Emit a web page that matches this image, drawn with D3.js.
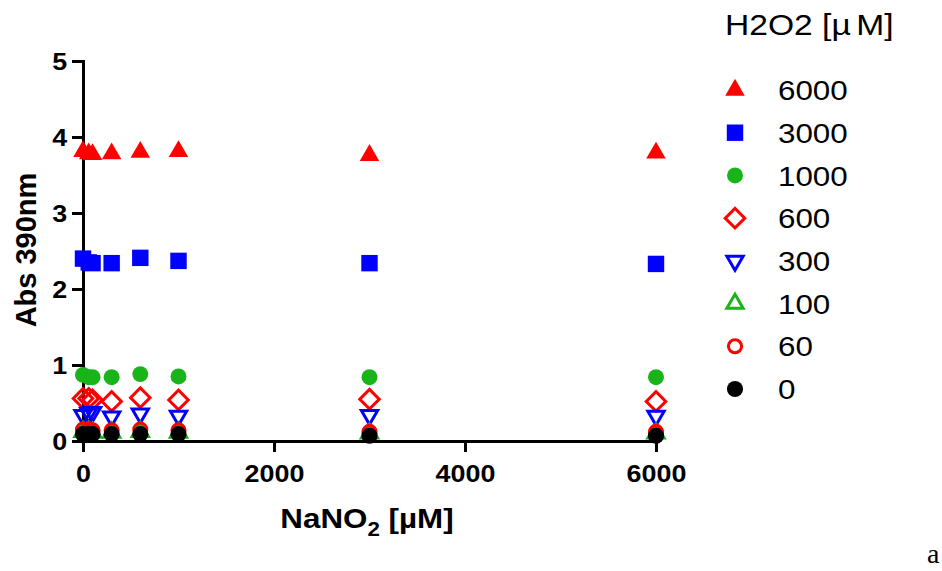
<!DOCTYPE html>
<html>
<head>
<meta charset="utf-8">
<script src="https://cdn.jsdelivr.net/npm/d3@7"></script>
<style>
  body { margin: 0; background: #fff; }
  svg { display: block; font-family: "Liberation Sans", Arial, sans-serif; }
</style>
</head>
<body>
<svg id="chart" width="942" height="571"></svg>
<script>
// NaNO2 concentrations (x) and H2O2 series (legend order)
const nitrite = [0, 60, 100, 300, 600, 1000, 3000, 6000];
const peroxide = ["6000", "3000", "1000", "600", "300", "100", "60", "0"];

const abs6000 = [3.81, 3.78, 3.77, 3.78, 3.80, 3.81, 3.76, 3.79];
const abs3000 = [2.40, 2.35, 2.34, 2.34, 2.41, 2.37, 2.34, 2.33];
const abs1000 = [0.87, 0.84, 0.84, 0.84, 0.88, 0.85, 0.84, 0.84];
const abs600 = [0.56, 0.56, 0.54, 0.52, 0.57, 0.54, 0.55, 0.52];
const abs300 = [0.34, 0.37, 0.38, 0.32, 0.36, 0.33, 0.34, 0.33];
const abs100 = [0.12, 0.12, 0.11, 0.11, 0.12, 0.11, 0.10, 0.10];
const abs60 = [0.15, 0.15, 0.14, 0.14, 0.15, 0.14, 0.12, 0.12];
const abs0 = [0.09, 0.09, 0.09, 0.09, 0.09, 0.09, 0.07, 0.07];

const xTicks = [0, 2000, 4000, 6000];
const yTicks = [0, 1, 2, 3, 4, 5];

const values = [abs6000, abs3000, abs1000, abs600, abs300, abs100, abs60, abs0];

// marker look per series
const markers = [
  { type: d3.symbolTriangle, size: 165, color: "#ff0000", fill: true, rot: 0 },
  { type: d3.symbolSquare, size: 270, color: "#0000ff", fill: true, rot: 0 },
  { type: d3.symbolCircle, size: 200, color: "#19b419", fill: true, rot: 0 },
  { type: d3.symbolSquare, size: 190, color: "#ff0000", fill: false, rot: 45 },
  { type: d3.symbolTriangle, size: 115, color: "#0000ff", fill: false, rot: 180 },
  { type: d3.symbolTriangle, size: 115, color: "#19b419", fill: false, rot: 0 },
  { type: d3.symbolCircle, size: 135, color: "#ff0000", fill: false, rot: 0 },
  { type: d3.symbolCircle, size: 205, color: "#000000", fill: true, rot: 0 }
];

const stretch = "scale(1.12,1)";
const svg = d3.select("#chart");

const x = d3.scaleLinear().domain([0, 6000]).range([83, 656]);
const y = d3.scaleLinear().domain([0, 5]).range([441, 61]);

// axes
const xAxis = svg.append("g")
  .attr("transform", "translate(0," + y(0) + ")")
  .call(d3.axisBottom(x).tickValues(xTicks).tickFormat(d3.format("d"))
    .tickSize(11).tickSizeOuter(0).tickPadding(13));

const yAxis = svg.append("g")
  .attr("transform", "translate(" + x(0) + ",0)")
  .call(d3.axisLeft(y).tickValues(yTicks).tickFormat(d3.format("d"))
    .tickSize(11).tickSizeOuter(0).tickPadding(3));

[xAxis, yAxis].forEach(function(a) {
  a.select(".domain").attr("stroke", "#000").attr("stroke-width", 3).attr("stroke-linecap", "square");
  a.selectAll(".tick line").attr("stroke", "#000").attr("stroke-width", 3);
  a.selectAll(".tick text")
    .attr("fill", "#000")
    .style("font-size", "24px")
    .style("font-weight", "bold")
    .attr("transform", stretch);
});
yAxis.selectAll(".tick text").attr("dy", "0.36em");

// axis titles
svg.append("text")
  .attr("transform", "translate(36,250) rotate(-90)")
  .attr("text-anchor", "middle")
  .style("font-size", "29px")
  .style("font-weight", "bold")
  .text("Abs 390nm");

const xTitle = svg.append("text")
  .attr("transform", "translate(367,528) " + stretch)
  .attr("text-anchor", "middle")
  .style("font-size", "28px")
  .style("font-weight", "bold");
xTitle.append("tspan").text("NaNO");
xTitle.append("tspan").attr("dy", 8).style("font-size", "20px").text("2");
xTitle.append("tspan").attr("dy", -8).text(" [\u00b5M]");

// draw a marker path
function drawMarker(sel, m) {
  sel.attr("d", d3.symbol().type(m.type).size(m.size))
    .attr("fill", m.fill ? m.color : "none")
    .attr("stroke", m.color)
    .attr("stroke-width", m.fill ? 0 : 3);
}

// points
values.forEach(function(series, i) {
  const m = markers[i];
  svg.append("g")
    .selectAll("path")
    .data(series)
    .enter()
    .append("path")
    .attr("transform", function(d, j) {
      return "translate(" + x(nitrite[j]) + "," + y(d) + ") rotate(" + m.rot + ")";
    })
    .call(drawMarker, m);
});

// legend
const legend = svg.append("g");
const legTitle = legend.append("text")
  .attr("transform", "translate(725,35) " + stretch)
  .style("font-size", "30px");
legTitle.append("tspan").text("H2O2 [\u00b5");
legTitle.append("tspan").attr("dx", 5).text("M]");

const rowY = d3.scaleLinear().domain([0, peroxide.length - 1]).range([90, 389]);

const rows = legend.selectAll(".row")
  .data(peroxide)
  .enter()
  .append("g")
  .attr("class", "row")
  .attr("transform", function(d, i) { return "translate(735," + rowY(i) + ")"; });

rows.append("path")
  .attr("transform", function(d, i) { return "rotate(" + markers[i].rot + ")"; })
  .each(function(d, i) { d3.select(this).call(drawMarker, markers[i]); });

rows.append("text")
  .attr("transform", "translate(43,0) " + stretch)
  .attr("dy", "0.36em")
  .style("font-size", "28px")
  .text(function(d) { return d; });

// panel letter
svg.append("text")
  .attr("x", 927)
  .attr("y", 563)
  .style("font-family", "'Liberation Serif', 'Times New Roman', serif")
  .style("font-size", "28px")
  .text("a");
</script>
</body>
</html>
